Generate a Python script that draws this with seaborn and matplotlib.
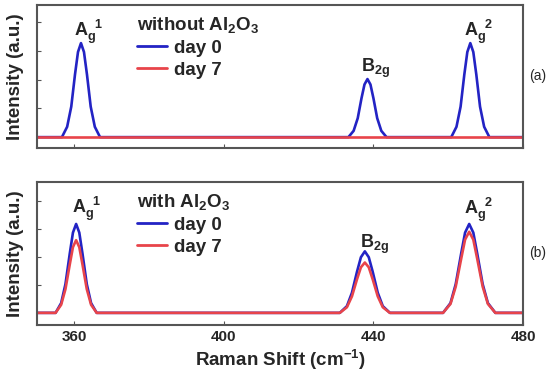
import numpy as np
import pandas as pd
import seaborn as sns
import matplotlib.pyplot as plt

# Raman spectra (intensity in arbitrary units, baseline = 0)
x_top = [350,
         356.7, 358.1, 359.2, 360.2, 361.0, 361.8, 362.6, 363.4, 364.4, 365.5, 366.9,
         433.3, 434.7, 435.8, 436.8, 437.6, 438.4, 439.2, 440.0, 441.0, 442.1, 443.5,
         460.8, 462.2, 463.3, 464.3, 465.1, 465.9, 466.7, 467.5, 468.5, 469.6, 471.0,
         480]
top_day0 = [0,
            0, 0.36, 1.06, 2.18, 2.96, 3.27, 2.96, 2.18, 1.06, 0.36, 0,
            0, 0.22, 0.66, 1.35, 1.83, 2.02, 1.83, 1.35, 0.66, 0.22, 0,
            0, 0.36, 1.06, 2.18, 2.96, 3.27, 2.96, 2.18, 1.06, 0.36, 0,
            0]
top_day7 = [0] * len(x_top)

x_bot = [350,
         355.0, 356.5, 357.65, 358.8, 359.65, 360.5, 361.35, 362.2, 363.35, 364.5, 366.0,
         431.0, 432.9, 434.25, 435.6, 436.65, 437.7, 438.75, 439.8, 441.15, 442.5, 444.4,
         458.6, 460.6, 462.0, 463.45, 464.5, 465.6, 466.7, 467.75, 469.2, 470.6, 472.6,
         480]
bot_day0 = [0,
            0, 0.35, 1.03, 2.12, 2.87, 3.18, 2.87, 2.12, 1.03, 0.35, 0,
            0, 0.24, 0.72, 1.47, 1.99, 2.20, 1.99, 1.47, 0.72, 0.24, 0,
            0, 0.35, 1.03, 2.12, 2.87, 3.18, 2.87, 2.12, 1.03, 0.35, 0,
            0]
bot_day7 = [0,
            0, 0.29, 0.85, 1.73, 2.35, 2.60, 2.35, 1.73, 0.85, 0.29, 0,
            0, 0.20, 0.59, 1.20, 1.63, 1.80, 1.63, 1.20, 0.59, 0.20, 0,
            0, 0.32, 0.94, 1.93, 2.62, 2.90, 2.62, 1.93, 0.94, 0.32, 0,
            0]

days = ['day 0', 'day 7']
titles = ['without Al$_2$O$_3$', 'with Al$_2$O$_3$']
panel_tags = ['(a)', '(b)']
xticks = [360, 400, 440, 480]

# peak labels: (text, x, y) in data units
peaks_top = [(r'A$_g^{\ \ 1}$', 360.0, 3.52), (r'B$_{2g}$', 436.8, 2.26), (r'A$_g^{\ \ 2}$', 464.3, 3.52)]
peaks_bot = [(r'A$_g^{\ \ 1}$', 359.4, 3.57), (r'B$_{2g}$', 436.4, 2.32), (r'A$_g^{\ \ 2}$', 464.1, 3.54)]

df_top = pd.DataFrame({'shift': x_top * 2, 'intensity': top_day0 + top_day7,
                       'day': [days[0]] * len(x_top) + [days[1]] * len(x_top)})
df_bot = pd.DataFrame({'shift': x_bot * 2, 'intensity': bot_day0 + bot_day7,
                       'day': [days[0]] * len(x_bot) + [days[1]] * len(x_bot)})

sns.set_style('white')
plt.rcParams['font.family'] = ['Liberation Sans', 'DejaVu Sans']
plt.rcParams['mathtext.fontset'] = 'custom'
plt.rcParams['mathtext.rm'] = 'Liberation Sans:bold'
plt.rcParams['mathtext.it'] = 'Liberation Sans:bold'
plt.rcParams['mathtext.bf'] = 'Liberation Sans:bold'
plt.rcParams['mathtext.default'] = 'bf'

palette = {'day 0': '#2323c4', 'day 7': '#e8444a'}

fig = plt.figure(figsize=(5.5, 3.73), dpi=100)
ax1 = fig.add_axes([0.067, 0.603, 0.884, 0.384])
ax2 = fig.add_axes([0.067, 0.129, 0.884, 0.383])

for ax, df, title, tag, peaks, ylim in [(ax1, df_top, titles[0], panel_tags[0], peaks_top, (-0.38, 4.6)),
                                        (ax2, df_bot, titles[1], panel_tags[1], peaks_bot, (-0.43, 4.68))]:
    sns.lineplot(data=df, x='shift', y='intensity', hue='day', hue_order=days,
                 palette=palette, estimator=None, sort=False, linewidth=1.9, ax=ax)
    ax.set_xlim(350, 480)
    ax.set_ylim(*ylim)
    ax.set_xticks(xticks)
    ax.set_yticks([1, 2, 3, 4])
    ax.set_yticklabels([])
    ax.tick_params(direction='in', length=3, width=0.8, color='#555555',
                   left=True, bottom=True, labelsize=11)
    for s in ax.spines.values():
        s.set_color('#555555')
        s.set_linewidth(1.5)
    ax.set_ylabel('Intensity (a.u.)', fontsize=13.5, fontweight='bold', labelpad=6)
    leg = ax.legend(title=title, loc='upper left', bbox_to_anchor=(0.205, 0.93),
                    frameon=False, fontsize=13.5, handlelength=1.6, handletextpad=0.4,
                    labelspacing=0.25, borderpad=0, borderaxespad=0, alignment='left')
    leg.get_title().set_fontsize(13.5)
    leg.get_title().set_fontweight('bold')
    for t in leg.get_texts():
        t.set_fontweight('bold')
    for h in leg.get_lines():
        h.set_linewidth(2)
    for txt, px, py in peaks:
        ax.text(px, py, txt, fontsize=13, fontweight='bold', ha='left', va='baseline')
    ax.text(1.012, 0.5, tag, transform=ax.transAxes, fontsize=10, ha='left', va='center')

ax1.set_xticklabels([])
ax1.set_xlabel('')
for lb in ax2.get_xticklabels():
    lb.set_fontweight('bold')
ax2.set_xlabel('Raman Shift (cm$^{-1}$)', fontsize=13.5, fontweight='bold', labelpad=3)

fig.savefig('out.png', dpi=100)
